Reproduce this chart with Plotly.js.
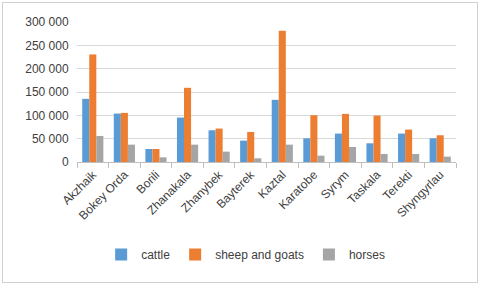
<!DOCTYPE html>
<html><head><meta charset="utf-8">
<script src="https://cdn.plot.ly/plotly-3.0.1.min.js"></script>
<style>
html,body{margin:0;padding:0;background:#fff;}
#wrap{position:relative;width:480px;height:285px;}
#chart{width:480px;height:285px;}
#frame{position:absolute;left:2px;top:2px;width:474px;height:279px;border:1px solid #d0d0d0;pointer-events:none;}
</style></head>
<body>
<div id="wrap"><div id="chart"></div><div id="frame"></div></div>
<script>
const districts = ["Akzhaik","Bokey Orda","Borili","Zhanakala","Zhanybek","Bayterek","Kaztal","Karatobe","Syrym","Taskala","Terekti","Shyngyrlau"];
const cattle = [135300,103800,27900,95200,68000,45800,133200,50800,60900,40100,60900,50800];
const sheepGoats = [230500,105300,27900,159000,71600,64400,281400,100200,103100,99500,69500,57300];
const horses = [55800,37200,10000,37200,22200,7900,37200,13600,32200,17200,17200,11500];
const yTicks = [0,50000,100000,150000,200000,250000,300000];

const fam = "'Liberation Sans', Arial, sans-serif";
const txt = "#404040";
const data = [
  {type:"bar", name:"cattle", x:districts, y:cattle, marker:{color:"#5B9BD5"}},
  {type:"bar", name:"sheep and goats", x:districts, y:sheepGoats, marker:{color:"#ED7D31"}},
  {type:"bar", name:"horses", x:districts, y:horses, marker:{color:"#A5A5A5"}}
];
const layout = {
  width:480, height:285,
  margin:{l:77, r:24, t:22, b:123},
  paper_bgcolor:"#fff", plot_bgcolor:"#fff",
  font:{family:fam, size:12, color:txt},
  separators:". ",
  barmode:"group", bargap:0.33, bargroupgap:0,
  showlegend:true,
  legend:{orientation:"h", x:0.445, xanchor:"center", y:-0.66, yanchor:"middle",
          font:{family:fam, size:12, color:txt}, itemwidth:30, traceorder:"normal"},
  xaxis:{tickangle:-45, showline:true, linecolor:"#bfbfbf", linewidth:1,
         ticks:"outside", tickson:"boundaries", ticklen:5, tickcolor:"#bfbfbf",
         tickfont:{family:fam, size:12, color:txt}, showgrid:false},
  yaxis:{range:[0,300000], tickvals:yTicks, tickformat:",d", showgrid:true, gridcolor:"#d9d9d9",
         zeroline:false, showline:false, ticks:"outside", ticklen:5, tickcolor:"rgba(0,0,0,0)",
         tickfont:{family:fam, size:12, color:txt}}
};
Plotly.newPlot("chart", data, layout, {displayModeBar:false, staticPlot:true});
</script>
</body></html>
